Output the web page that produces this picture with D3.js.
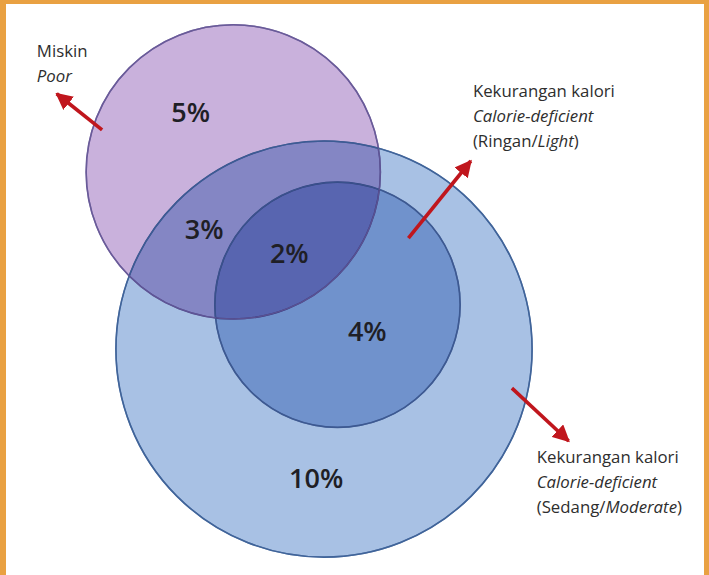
<!DOCTYPE html>
<html>
<head>
<meta charset="utf-8">
<script src="https://cdn.jsdelivr.net/npm/d3@7"></script>
<style>
  body { margin: 0; background: #fff; }
  svg { display: block; font-family: "Open Sans", sans-serif; }
</style>
</head>
<body>
<div id="chart"></div>
<script>
// sets of the diagram
var setNames = ["Miskin", "Ringan", "Sedang"];
var setLabels = [
  [["Miskin", ""], ["", "Poor"]],
  [["Kekurangan kalori", ""], ["", "Calorie-deficient"], ["(Ringan/", "Light", ")"]],
  [["Kekurangan kalori", ""], ["", "Calorie-deficient"], ["(Sedang/", "Moderate", ")"]]
];
// share of households in each region of the diagram (%)
var regionSets = [["Miskin"], ["Miskin", "Sedang"], ["Miskin", "Ringan", "Sedang"], ["Ringan", "Sedang"], ["Sedang"]];
var regionValues = [5, 3, 2, 4, 10];

// layout in diagram units (0-100 across, 0-100 down)
var circleLayout = {
  Miskin: {cx: 32.9, cy: 29.9, r: 20.75},
  Ringan: {cx: 47.6, cy: 53.0, r: 17.3},
  Sedang: {cx: 45.7, cy: 60.7, r: 29.35}
};
var regionLabelPos = [[26.9, 21.3], [28.8, 41.5], [40.8, 45.8], [51.8, 59.3], [44.6, 84.8]];
var arrowLayout = [
  {from: [14.4, 22.6], to: [8.0, 16.3]},
  {from: [57.6, 41.4], to: [66.4, 28.0]},
  {from: [72.2, 67.5], to: [80.2, 76.7]}
];
var labelAnchor = [[5.2, 9.9], [66.7, 16.8], [75.7, 80.6]];

var W = 709, H = 575;
var border = {left: 6, top: 4, right: 5};

var x = d3.scaleLinear().domain([0, 100]).range([0, W]);
var y = d3.scaleLinear().domain([0, 100]).range([0, H]);
var rScale = d3.scaleLinear().domain([0, 100]).range([0, W]);

var fills = {Miskin: "#c9b1dc", Ringan: "#7092cc", Sedang: "#a8c1e4"};
var strokes = {Miskin: "#6a5b99", Ringan: "#3e5a92", Sedang: "#40649a"};

var svg = d3.select("#chart").append("svg")
  .attr("width", W)
  .attr("height", H);

svg.append("rect")
  .attr("width", W).attr("height", H)
  .attr("fill", "#e9a142");
svg.append("rect")
  .attr("x", border.left).attr("y", border.top)
  .attr("width", W - border.left - border.right)
  .attr("height", H - border.top)
  .attr("fill", "#ffffff");

svg.append("defs").append("marker")
  .attr("id", "head")
  .attr("viewBox", "0 -5 10 10")
  .attr("refX", 9)
  .attr("refY", 0)
  .attr("markerUnits", "userSpaceOnUse")
  .attr("markerWidth", 17)
  .attr("markerHeight", 17)
  .attr("orient", "auto")
  .append("path")
  .attr("d", "M0,-5L10,0L0,5Z")
  .attr("fill", "#c0161d");

var venn = svg.append("g").attr("class", "venn").style("isolation", "isolate");

// draw big circle, then inner one, then the poor circle multiplied on top
var drawOrder = ["Sedang", "Ringan", "Miskin"];
venn.selectAll("circle")
  .data(drawOrder)
  .enter()
  .append("circle")
  .attr("cx", function(d) { return x(circleLayout[d].cx); })
  .attr("cy", function(d) { return y(circleLayout[d].cy); })
  .attr("r", function(d) { return rScale(circleLayout[d].r); })
  .attr("fill", function(d) { return fills[d]; })
  .attr("stroke", function(d) { return strokes[d]; })
  .attr("stroke-width", 1.6)
  .style("mix-blend-mode", function(d) { return d == "Miskin" ? "multiply" : "normal"; });

// redraw outlines so every edge stays visible
venn.selectAll("circle.edge")
  .data(drawOrder)
  .enter()
  .append("circle")
  .attr("class", "edge")
  .attr("cx", function(d) { return x(circleLayout[d].cx); })
  .attr("cy", function(d) { return y(circleLayout[d].cy); })
  .attr("r", function(d) { return rScale(circleLayout[d].r); })
  .attr("fill", "none")
  .attr("stroke", function(d) { return strokes[d]; })
  .attr("stroke-opacity", 0.75)
  .attr("stroke-width", 1.4);

svg.selectAll("text.value")
  .data(regionValues)
  .enter()
  .append("text")
  .attr("class", "value")
  .attr("x", function(d, i) { return x(regionLabelPos[i][0]); })
  .attr("y", function(d, i) { return y(regionLabelPos[i][1]); })
  .attr("text-anchor", "middle")
  .attr("font-size", 27)
  .attr("font-weight", 600)
  .attr("fill", "#1f1f26")
  .text(function(d) { return d + "%"; });

svg.selectAll("line.arrow")
  .data(arrowLayout)
  .enter()
  .append("line")
  .attr("class", "arrow")
  .attr("x1", function(d) { return x(d.from[0]); })
  .attr("y1", function(d) { return y(d.from[1]); })
  .attr("x2", function(d) { return x(d.to[0]); })
  .attr("y2", function(d) { return y(d.to[1]); })
  .attr("stroke", "#c0161d")
  .attr("stroke-width", 3.6)
  .attr("marker-end", "url(#head)");

var labelGroups = svg.selectAll("g.setlabel")
  .data(setLabels)
  .enter()
  .append("g")
  .attr("class", "setlabel")
  .attr("transform", function(d, i) {
    return "translate(" + x(labelAnchor[i][0]) + "," + y(labelAnchor[i][1]) + ")";
  });

labelGroups.each(function(lines) {
  var g = d3.select(this);
  lines.forEach(function(parts, li) {
    var t = g.append("text")
      .attr("x", 0)
      .attr("y", li * 25)
      .attr("font-size", 16.8)
      .attr("fill", "#2e2e2e");
    parts.forEach(function(p, pi) {
      if (p === "") return;
      t.append("tspan")
        .attr("font-style", pi % 2 == 1 ? "italic" : "normal")
        .text(p);
    });
  });
});
</script>
</body>
</html>
